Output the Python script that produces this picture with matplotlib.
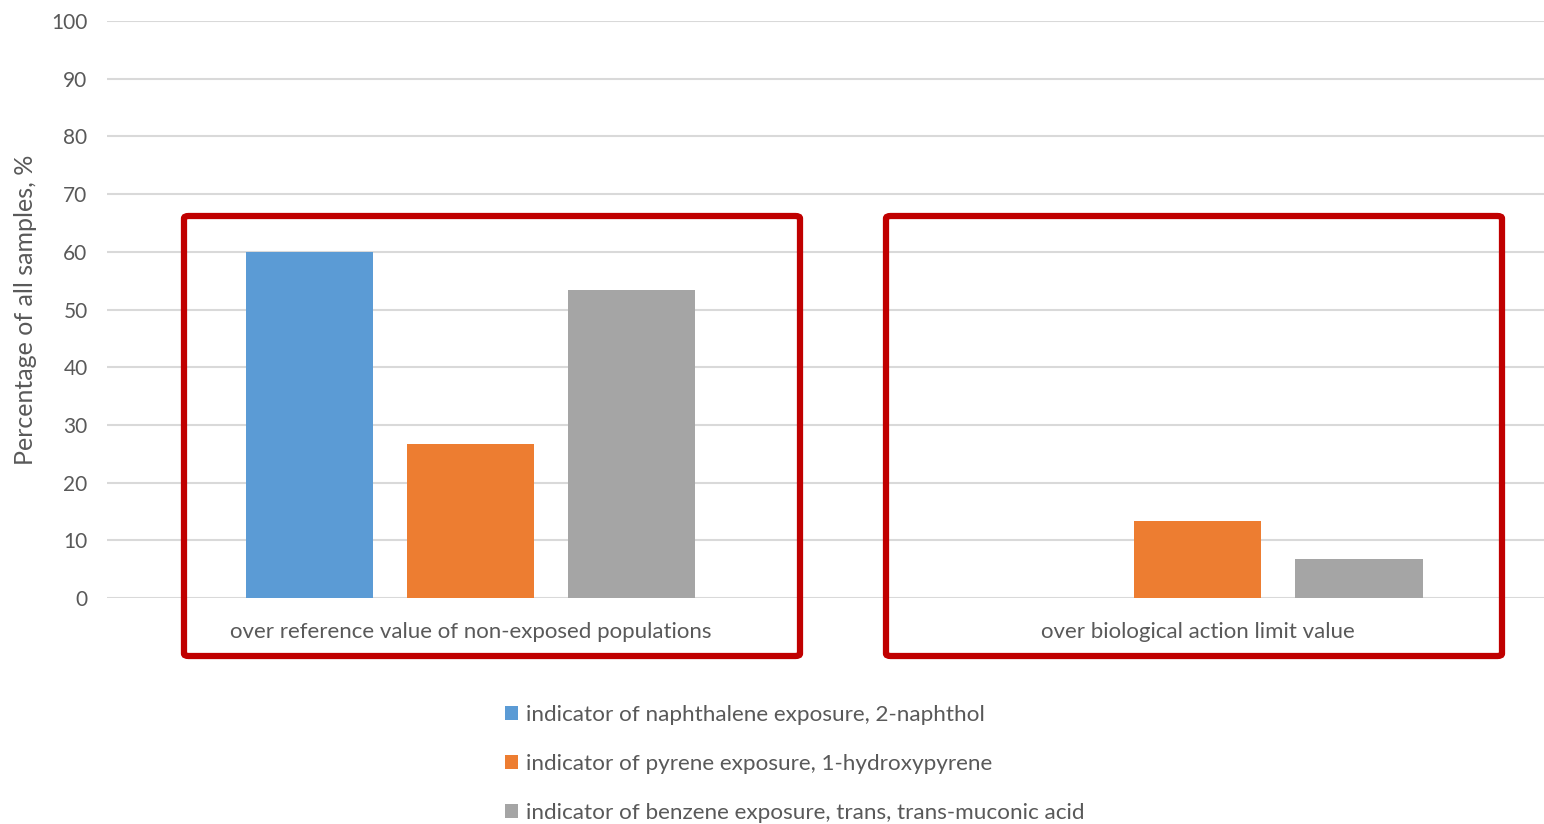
import matplotlib.pyplot as plt
from matplotlib.patches import FancyBboxPatch
import numpy as np

plt.rcParams['font.family'] = ['Lato', 'DejaVu Sans']

categories = ["over reference value of non-exposed populations",
              "over biological action limit value"]
series = ["indicator of naphthalene exposure, 2-naphthol",
          "indicator of pyrene exposure, 1-hydroxypyrene",
          "indicator of benzene exposure, trans, trans-muconic acid"]
naphthol = [60.0, 0.0]
hydroxypyrene = [26.7, 13.3]
muconic = [53.3, 6.7]
colors = ['#5B9BD5', '#ED7D31', '#A5A5A5']
text_col = '#595959'

fig = plt.figure(figsize=(15.44, 8.24), dpi=100)
ax = fig.add_axes([107 / 1544, 1 - 598 / 824, 1 - 107 / 1544, (598 - 21) / 824])

x = np.arange(len(categories))
width = 0.175
step = 0.2215
for i, (vals, col) in enumerate(zip([naphthol, hydroxypyrene, muconic], colors)):
    ax.bar(x + (i - 1) * step, vals, width, color=col, label=series[i], zorder=3)

ax.set_xlim(-0.5, 1.476)
ax.set_ylim(0, 100)
ax.set_yticks(range(0, 101, 10))
ax.yaxis.grid(True, color='#d9d9d9', lw=1.5, zorder=0)
ax.set_xticks(x)
ax.set_xticklabels(categories)
ax.tick_params(axis='x', length=0, pad=17, labelsize=16, labelcolor=text_col)
ax.tick_params(axis='y', length=0, pad=14, labelsize=15, labelcolor=text_col)
for s in ax.spines.values():
    s.set_visible(False)
ax.set_ylabel("Percentage of all samples, %", fontsize=18, color=text_col)
ax.yaxis.set_label_coords(-0.049, 0.5)

# red frames around each category group
for left in (184, 886):
    box = FancyBboxPatch((left / 1544, 1 - 656 / 824), 616 / 1544, 440 / 824,
                         boxstyle="round,pad=0,rounding_size=0.003",
                         transform=fig.transFigure, fill=False,
                         edgecolor='#C00000', lw=4.5, zorder=10)
    fig.add_artist(box)

fig.legend(loc='upper left', bbox_to_anchor=(496 / 1544, 1 - 696 / 824),
           frameon=False, ncol=1, fontsize=16.2, labelcolor=text_col,
           handlelength=0.6, handleheight=0.6, handletextpad=0.35,
           labelspacing=1.28, borderaxespad=0)

fig.savefig('out.png', dpi=100)
